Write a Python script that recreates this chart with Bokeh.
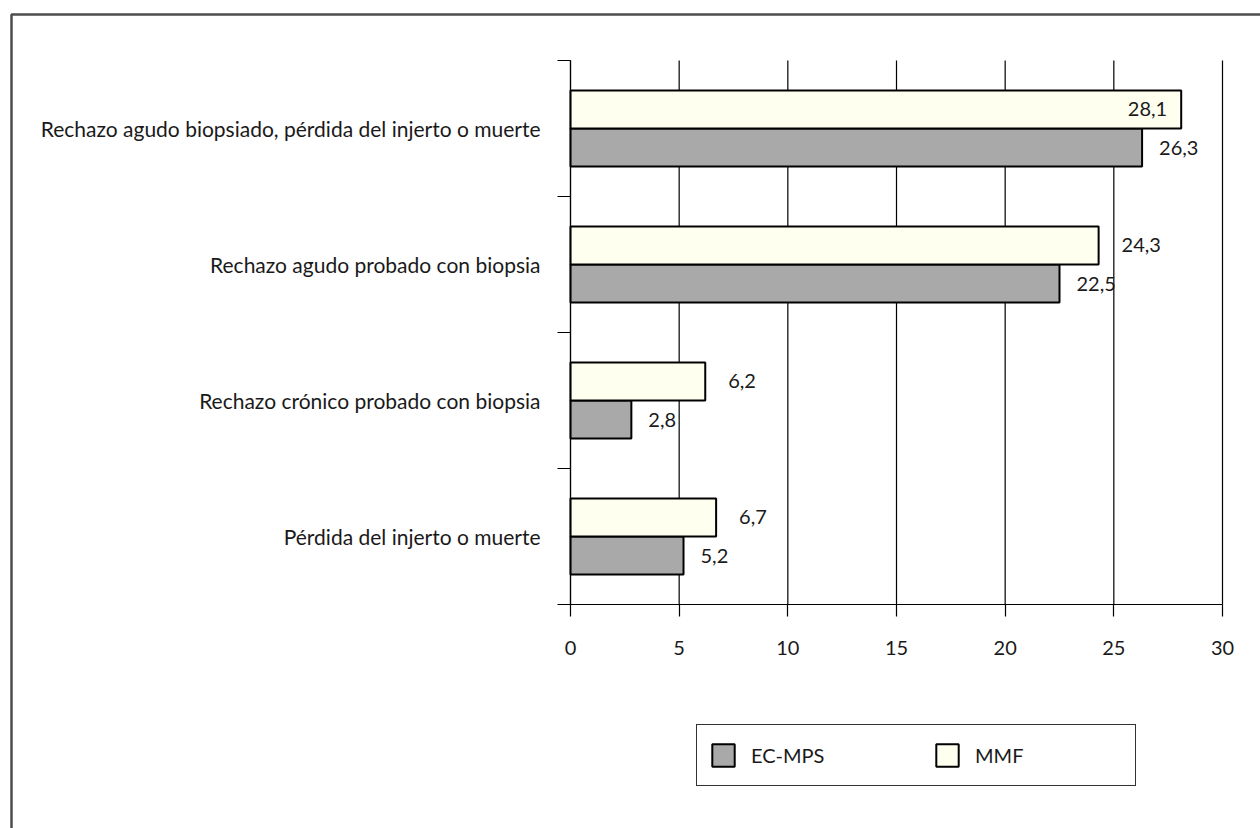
from bokeh.plotting import figure
from bokeh.models import (Range1d, FixedTicker, ColumnDataSource, BoxAnnotation, LabelSet)
from bokeh.core.properties import value
from bokeh.embed import file_html
from bokeh.resources import INLINE

# ---- data ----
categories = [
    "Rechazo agudo biopsiado, pérdida del injerto o muerte",
    "Rechazo agudo probado con biopsia",
    "Rechazo crónico probado con biopsia",
    "Pérdida del injerto o muerte",
]
ec_mps = [26.3, 22.5, 2.8, 5.2]
mmf = [28.1, 24.3, 6.2, 6.7]
series_names = ["EC-MPS", "MMF"]
x_ticks = [0, 5, 10, 15, 20, 25, 30]

FONT = "Lato"
FS_CAT = "21px"
FS = "20px"
TXT = "#1a1a1a"

W, H = 1260, 828
# plot-area placement in the page (pixels)
PX0, PX1 = 570, 1222   # x = 0 .. 30
PY0, PY1 = 60, 604     # top .. bottom of category area

n = len(categories)
xmax = x_ticks[-1]
ux = (PX1 - PX0) / xmax
uy = (PY1 - PY0) / n
x_range = Range1d(-PX0 / ux, xmax + (W - PX1) / ux)
y_range = Range1d(-(H - PY1) / uy, n + PY0 / uy)

centers = [n - 0.5 - i for i in range(n)]  # top category first

p = figure(width=W, height=H, output_backend="svg", toolbar_location=None,
           x_range=x_range, y_range=y_range,
           min_border=0, min_border_left=0, min_border_right=0,
           min_border_top=0, min_border_bottom=0)
p.outline_line_color = None
p.background_fill_color = "white"
p.border_fill_color = "white"
p.xgrid.visible = False
p.ygrid.visible = False

# vertical grid lines (under the bars)
p.segment(x0=x_ticks, x1=x_ticks, y0=[0] * len(x_ticks), y1=[n] * len(x_ticks),
          line_color="black", line_width=1.2)

bar_h = 0.28
off = 0.14
src_ec = ColumnDataSource(dict(y=[c - off for c in centers], v=ec_mps,
                               lab=[f"{v:.1f}".replace(".", ",") for v in ec_mps]))
src_mmf = ColumnDataSource(dict(y=[c + off for c in centers], v=mmf,
                                lab=[f"{v:.1f}".replace(".", ",") for v in mmf]))

r_ec = p.hbar(y="y", right="v", left=0, height=bar_h, source=src_ec,
              fill_color="#a9a9a9", line_color="black", line_width=2,
              legend_label=series_names[0])
r_mmf = p.hbar(y="y", right="v", left=0, height=bar_h, source=src_mmf,
               fill_color="#fffff0", line_color="black", line_width=2,
               legend_label=series_names[1])

# value labels
def add_labels(vals, ys, lab, outside_offset):
    out = dict(x=[], y=[], t=[])
    ins = dict(x=[], y=[], t=[])
    for v, y, t in zip(vals, ys, lab):
        d = ins if v > 27 else out
        d["x"].append(v); d["y"].append(y); d["t"].append(t)
    if out["x"]:
        p.add_layout(LabelSet(x="x", y="y", text="t", source=ColumnDataSource(out),
                              x_offset=outside_offset, text_align="left",
                              text_baseline="middle", text_font=value(FONT),
                              text_font_size=value(FS), text_color=TXT))
    if ins["x"]:
        p.add_layout(LabelSet(x="x", y="y", text="t", source=ColumnDataSource(ins),
                              x_offset=-14, text_align="right",
                              text_baseline="middle", text_font=value(FONT),
                              text_font_size=value(FS), text_color=TXT))

add_labels(ec_mps, src_ec.data["y"], src_ec.data["lab"], 17)
add_labels(mmf, src_mmf.data["y"], src_mmf.data["lab"], 23)

# x axis (fixed at y = 0)
xa = p.xaxis[0]
xa.fixed_location = 0
xa.bounds = (0, xmax)
xa.ticker = FixedTicker(ticks=x_ticks, minor_ticks=[])
xa.axis_line_color = "black"
xa.axis_line_width = 1.2
xa.major_tick_line_color = "black"
xa.major_tick_line_width = 1.2
xa.major_tick_out = 12
xa.major_tick_in = 0
xa.major_label_standoff = 24
xa.major_label_text_font = FONT
xa.major_label_text_font_size = FS
xa.major_label_text_color = TXT
xa.major_label_text_font_style = "normal"

# y axis (fixed at x = 0)
ya = p.yaxis[0]
ya.fixed_location = 0
ya.bounds = (0, n)
ya.ticker = FixedTicker(ticks=centers, minor_ticks=list(range(n + 1)))
ya.major_label_overrides = {c: cat for c, cat in zip(centers, categories)}
ya.axis_line_color = "black"
ya.axis_line_width = 1.2
ya.major_tick_line_color = None
ya.major_tick_out = 0
ya.major_tick_in = 0
ya.minor_tick_line_color = "black"
ya.minor_tick_line_width = 1.2
ya.minor_tick_out = 13
ya.minor_tick_in = 0
ya.major_label_standoff = 17
ya.major_label_text_font = FONT
ya.major_label_text_font_size = FS_CAT
ya.major_label_text_color = TXT
ya.major_label_text_font_style = "normal"

# legend
leg = p.legend[0]
leg.orientation = "horizontal"
leg.location = (696, 42)
leg.glyph_width = 28
leg.glyph_height = 28
leg.label_height = 36
leg.label_width = 148
leg.label_standoff = 14
leg.spacing = 34
leg.padding = 12
leg.margin = 0
leg.border_line_color = "#333333"
leg.border_line_alpha = 1
leg.border_line_width = 1.6
leg.background_fill_alpha = 1
leg.label_text_font = FONT
leg.label_text_font_size = FS
leg.label_text_color = TXT

# outer frame border (its right and bottom sides lie beyond the page)
p.add_layout(BoxAnnotation(left=11, right=W + 40, top=14, bottom=H + 40,
                           left_units="canvas", right_units="canvas",
                           top_units="canvas", bottom_units="canvas",
                           fill_alpha=0, line_color="#4d4d4d", line_alpha=1,
                           line_width=2.5))

open("out.html", "w").write(file_html(p, INLINE))
